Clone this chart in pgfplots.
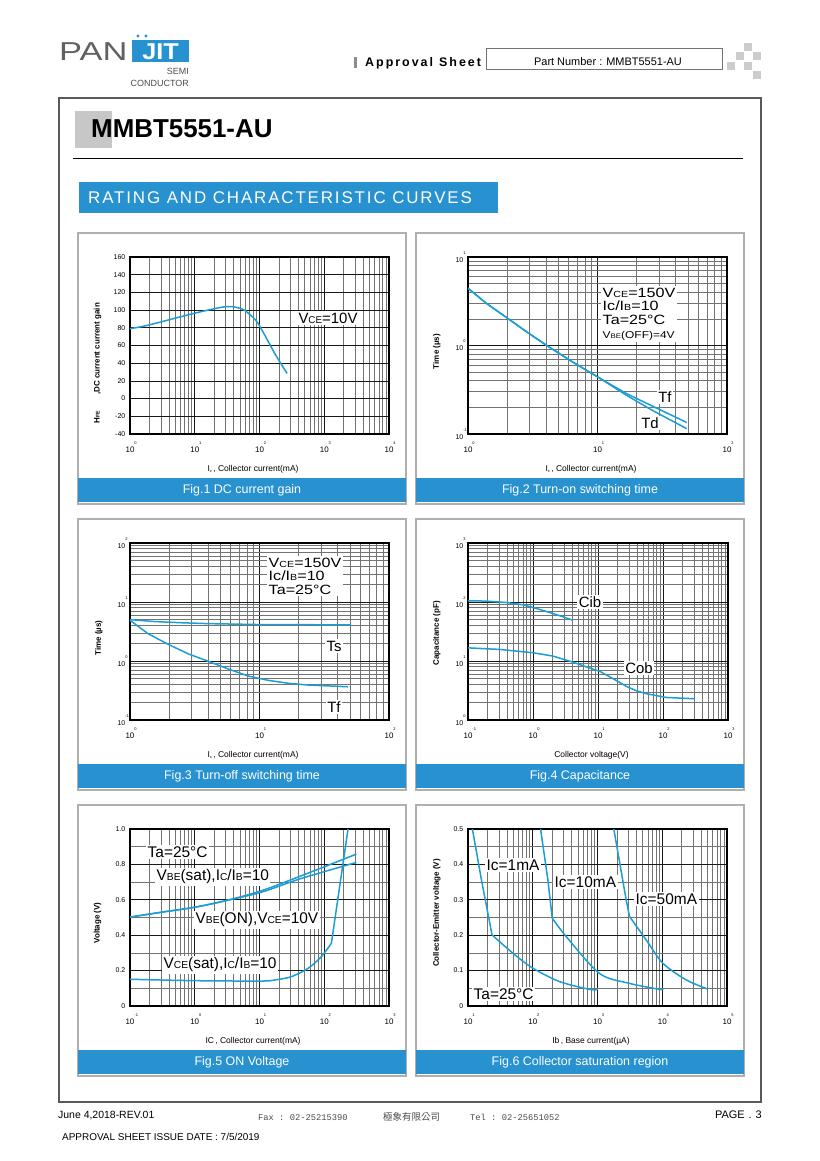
\documentclass[border=0pt]{standalone}
\usepackage{pgfplots}
\pgfplotsset{compat=1.18}
\usepackage{fontspec}
\setmainfont{Liberation Sans}
\setmonofont{Liberation Mono}
\newfontfamily\cjk{Noto Sans CJK TC}
\definecolor{curve}{RGB}{28,158,212}
\definecolor{bar}{RGB}{40,146,208}
\definecolor{panel}{RGB}{175,175,175}
\newcommand\fs[1]{\fontsize{#1}{#1}\selectfont}
\newcommand\tl[1]{10\rlap{\raisebox{8bp}{\fs{4}#1}}}
\newcommand\sm[1]{\scalebox{0.66}{#1}}
\newcommand\wide[1]{\scalebox{1.2}[1]{#1}}

\pgfplotsset{
  sheet/.style={scale only axis, width=259bp, height=177bp, anchor=north west,
    axis line style={line width=1.2bp},
    grid=both,
    major grid style={black!90, line width=0.7bp},
    minor grid style={black!55, line width=0.6bp},
    major tick length=0pt, minor tick length=0pt,
    xticklabel style={font=\fs{8}, anchor=base, inner sep=0pt, yshift=-19bp},
    yticklabel style={font=\fs{7}, anchor=east, inner sep=0pt, xshift=-4.5bp},
    xlabel style={font=\fs{8.5}, at={(axis description cs:0.475,-0.2)}, anchor=center},
    ylabel style={font=\bfseries\fs{8}, anchor=center},
  },
  logy/.style={y coord trafo/.code={\pgfmathparse{log10(##1)}},
    y coord inv trafo/.code={\pgfmathparse{10^(##1)}}},
  cv/.style={color=curve, line width=1.5bp, no markers, line join=round},
}

\begin{document}
\begin{tikzpicture}
\path[fill=white,use as bounding box] (0bp,0bp) rectangle (820bp,1161bp);

\begin{scope}[x=1bp, y=-1bp, shift={(0bp,1161bp)}]
% ---- header
\node[anchor=base west, inner sep=0pt, text=black!62, font=\fs{26}] at (59,61) {\scalebox{1.33}[1]{PAN}};
\fill[bar] (132,40) rectangle (189,62);
\node[anchor=base, inner sep=0pt, text=white, font=\bfseries\fs{23}] at (160.5,60) {\scalebox{1.1}[1]{JIT}};
\fill[bar] (138,36) circle (1.6bp);
\fill[bar] (146,36) circle (1.6bp);
\node[anchor=base east, inner sep=0pt, text=black!70, font=\fs{9}] at (189,75) {SEMI};
\node[anchor=base east, inner sep=0pt, text=black!70, font=\fs{9}] at (189,87) {CONDUCTOR};

\fill[black!45] (354,57) rectangle (357,68);
\node[anchor=base west, inner sep=0pt, font=\bfseries\fs{12.5}\addfontfeatures{LetterSpace=16}] at (365,67) {Approval\hspace{6bp}Sheet};
\draw[black!55, line width=0.8bp] (486,48) rectangle (722,69);
\node[anchor=base, inner sep=0pt, font=\fs{11}] at (608,66) {Part Number : MMBT5551-AU};
\foreach \a/\b in {744/43,736/52,753/52,727/62,744/62,753/71}
  \fill[black!20] (\a,\b) rectangle ++(8,8);

% ---- frame and title
\draw[black!65, line width=1.5bp] (59,98) rectangle (761,1102);
\fill[black!22] (75,111) rectangle (112,148);
\node[anchor=base west, inner sep=0pt, font=\bfseries\fs{26}] at (91,138) {MMBT5551-AU};
\draw[line width=1bp] (73,159) -- (743,159);
\fill[bar] (79,182) rectangle (498,213);
\node[anchor=base west, inner sep=0pt, text=white, font=\fs{17}\addfontfeatures{LetterSpace=11}] at (88,204) {RATING AND CHARACTERISTIC CURVES};

% ---- panels
\foreach \px/\py/\cap in {78/233/{Fig.1 DC current gain}, 416/233/{Fig.2 Turn-on switching time},
    78/519/{Fig.3 Turn-off switching time}, 416/519/{Fig.4 Capacitance},
    78/805/{Fig.5 ON Voltage}, 416/805/{Fig.6 Collector saturation region}} {
  \draw[panel, line width=1.5bp] (\px,\py) rectangle ++(328,271);
  \fill[bar] (\px,\py+245) rectangle ++(328,24);
  \node[text=white, font=\fs{12.5}] at (\px+164,\py+257) {\cap};
}
\end{scope}

% ---- Fig.1
\begin{axis}[sheet, at={(130bp,904bp)}, xmode=log, xmin=1, xmax=10000, ymin=-40, ymax=160,
  xtick={1,10,100,1000,10000}, xticklabels={\tl{0},\tl{1},\tl{2},\tl{3},\tl{4}},
  minor xtick={2,3,4,5,6,7,8,9,20,30,40,50,60,70,80,90,200,300,400,500,600,700,800,900,2000,3000,4000,5000,6000,7000,8000,9000},
  ytick={-40,-20,0,20,40,60,80,100,120,140,160},
  yticklabels={-40,-20,0,20,40,60,80,100,120,140,160},
  xlabel={I\raisebox{-1bp}{\fs{4}c}\,,\ Collector current(mA)},
  ylabel={H\sm{FE}\hspace{16bp},DC current current gain},
  ylabel style={at={(axis description cs:-0.125,0.40)}}]
\addplot[cv, smooth] coordinates {(1,79) (1.92,83) (10,96.5) (31,104) (53,101.4) (67,96.5) (95,85) (172,51) (267,28.4)};
\end{axis}

% ---- Fig.2
\begin{axis}[sheet, logy, at={(468bp,904bp)}, xmode=log, xmin=1, xmax=100, ymin=0.1, ymax=10,
  xtick={1,10,100}, xticklabels={\tl{0},\tl{1},\tl{2}},
  minor xtick={2,3,4,5,6,7,8,9,20,30,40,50,60,70,80,90},
  ytick={0.1,1,10}, yticklabels={\tl{-1},\tl{0},\tl{1}},
  minor ytick={0.2,0.3,0.4,0.5,0.6,0.7,0.8,0.9,2,3,4,5,6,7,8,9},
  xlabel={I\raisebox{-1bp}{\fs{4}c}\,,\ Collector current(mA)},
  ylabel={Time (\textmu s)},
  ylabel style={at={(axis description cs:-0.12,0.466)}}]
\addplot[cv] coordinates {(1,4.44) (1.38,3.01) (1.975,2.08) (2.82,1.436) (4.02,1.009) (6.45,0.649) (10.36,0.429) (16.6,0.288) (26.7,0.206) (48.9,0.135)};
\addplot[cv] coordinates {(1,4.44) (1.38,3.01) (1.975,2.08) (2.82,1.436) (4.02,1.009) (6.45,0.649) (10.36,0.429) (16.6,0.276) (26.7,0.184) (48.9,0.115)};
\end{axis}

% ---- Fig.3
\begin{axis}[sheet, logy, at={(130bp,618bp)}, xmode=log, xmin=1, xmax=100, ymin=0.1, ymax=100,
  xtick={1,10,100}, xticklabels={\tl{0},\tl{1},\tl{2}},
  minor xtick={2,3,4,5,6,7,8,9,20,30,40,50,60,70,80,90},
  ytick={0.1,1,10,100}, yticklabels={\tl{-1},\tl{0},\tl{1},\tl{2}},
  minor ytick={0.2,0.3,0.4,0.5,0.6,0.7,0.8,0.9,2,3,4,5,6,7,8,9,20,30,40,50,60,70,80,90},
  xlabel={I\raisebox{-1bp}{\fs{4}c}\,,\ Collector current(mA)},
  ylabel={Time (\textmu s)},
  ylabel style={at={(axis description cs:-0.12,0.463)}}]
\addplot[cv] coordinates {(1,5.03) (1.56,4.66) (2.5,4.45) (4.02,4.3) (10.4,4.14) (51,4.1)};
\addplot[cv] coordinates {(1,4.9) (1.38,2.9) (1.98,1.91) (2.82,1.32) (4.02,0.99) (5.73,0.734) (8.18,0.557) (11.7,0.47) (16.6,0.42) (23.7,0.392) (48.3,0.366)};
\end{axis}

% ---- Fig.4
\begin{axis}[sheet, logy, at={(468bp,618bp)}, width=260bp, xmode=log, xmin=0.1, xmax=1000, ymin=1, ymax=1000,
  xtick={0.1,1,10,100,1000}, xticklabels={\tl{-1},\tl{0},\tl{1},\tl{2},\tl{3}},
  minor xtick={0.2,0.3,0.4,0.5,0.6,0.7,0.8,0.9,2,3,4,5,6,7,8,9,20,30,40,50,60,70,80,90,200,300,400,500,600,700,800,900},
  ytick={1,10,100,1000}, yticklabels={\tl{0},\tl{1},\tl{2},\tl{3}},
  minor ytick={2,3,4,5,6,7,8,9,20,30,40,50,60,70,80,90,200,300,400,500,600,700,800,900},
  xlabel={Collector voltage(V)},
  ylabel={Capacitance (pF)},
  ylabel style={at={(axis description cs:-0.12,0.49)}}]
\addplot[cv] coordinates {(0.1,105) (0.19,103.6) (0.389,98) (0.7,89.7) (1,80.8) (2.03,63.8) (4.12,49.1)};
\addplot[cv] coordinates {(0.1,16.7) (0.307,15.7) (1,13.8) (2.03,12.1) (4.12,9.55) (6.62,7.94) (10.6,6.7) (17,5.02) (27.3,3.72) (38.9,3.13) (55.4,2.79) (112,2.41) (307,2.29)};
\end{axis}

% ---- Fig.5
\begin{axis}[sheet, at={(130bp,332bp)}, xmode=log, xmin=0.1, xmax=1000, ymin=0, ymax=1,
  xtick={0.1,1,10,100,1000}, xticklabels={\tl{-1},\tl{0},\tl{1},\tl{2},\tl{3}},
  minor xtick={0.2,0.3,0.4,0.5,0.6,0.7,0.8,0.9,2,3,4,5,6,7,8,9,20,30,40,50,60,70,80,90,200,300,400,500,600,700,800,900},
  ytick={0,0.2,0.4,0.6,0.8,1}, yticklabels={0,0.2,0.4,0.6,0.8,1.0},
  minor ytick={0.1,0.3,0.5,0.7,0.9},
  xlabel={IC\,,\ Collector current(mA)},
  ylabel={Voltage (V)},
  ylabel style={at={(axis description cs:-0.125,0.469)}}]
\addplot[cv, smooth] coordinates {(0.1,0.502) (0.308,0.530) (1,0.558) (2.92,0.594) (10.7,0.651) (44.5,0.736) (313,0.858)};
\addplot[cv, smooth] coordinates {(0.1,0.502) (0.308,0.530) (1,0.558) (2.92,0.594) (10.7,0.643) (44.5,0.721) (313,0.811)};
\addplot[cv, smooth] coordinates {(0.1,0.151) (1,0.143) (10.7,0.141) (17.3,0.147) (31.2,0.166) (56.4,0.213) (90.4,0.279) (129,0.355)};
\addplot[cv] coordinates {(129,0.355) (173,0.675) (233,1.0)};
\end{axis}

% ---- Fig.6
\begin{axis}[sheet, at={(468bp,332bp)}, xmode=log, xmin=10, xmax=100000, ymin=0, ymax=0.5,
  xtick={10,100,1000,10000,100000}, xticklabels={\tl{1},\tl{2},\tl{3},\tl{4},\tl{5}},
  minor xtick={20,30,40,50,60,70,80,90,200,300,400,500,600,700,800,900,2000,3000,4000,5000,6000,7000,8000,9000,20000,30000,40000,50000,60000,70000,80000,90000},
  ytick={0,0.1,0.2,0.3,0.4,0.5}, yticklabels={0,0.1,0.2,0.3,0.4,0.5},
  minor ytick={0.05,0.15,0.25,0.35,0.45},
  xlabel={Ib\,,\ Base current(\textmu A)},
  ylabel={Collector-Emitter voltage (V)},
  ylabel style={at={(axis description cs:-0.12,0.525)}}]
\addplot[cv] coordinates {(11.7,0.5) (16.1,0.357) (23.5,0.201)};
\addplot[cv, smooth] coordinates {(23.5,0.201) (49.4,0.149) (100,0.107) (259,0.069) (753,0.047) (1012,0.047)};
\addplot[cv] coordinates {(132,0.5) (171,0.357) (200,0.248)};
\addplot[cv, smooth] coordinates {(200,0.248) (329,0.196) (1072,0.092) (3100,0.064) (9030,0.047) (10180,0.047)};
\addplot[cv] coordinates {(1786,0.5) (2770,0.3) (3120,0.253)};
\addplot[cv, smooth] coordinates {(3120,0.253) (5630,0.187) (10190,0.121) (23300,0.074) (50100,0.048)};
\end{axis}

\begin{scope}[x=1bp, y=-1bp, shift={(0bp,1161bp)}]
% ---- annotations
\tikzset{lab/.style={fill=white, inner sep=1.5bp, font=\fs{15.5}}}
\node[lab, font=\fs{15}] at (328,318) {V\sm{CE}=10V};
\node[lab, anchor=north west, align=left, font=\fontsize{13.5}{13.8}\selectfont] at (601,286)
  {\wide{V\sm{CE}=150V}\\ \wide{Ic/I\sm{B}=10}\\ \wide{Ta=25°C}\\ \wide{\fs{10}V\sm{BE}(OFF)=4V}};
\node[lab, font=\fs{15}] at (665,397) {Tf};
\node[lab, font=\fs{15}] at (650,423) {Td};
\node[lab, anchor=north west, align=left, font=\fontsize{13.5}{13.8}\selectfont] at (267,556)
  {\wide{V\sm{CE}=150V}\\ \wide{Ic/I\sm{B}=10}\\ \wide{Ta=25°C}};
\node[lab, font=\fs{15}] at (334,646) {Ts};
\node[lab, font=\fs{15}] at (334,707) {Tf};
\node[lab, font=\fs{15}] at (590,602) {Cib};
\node[lab, font=\fs{15}] at (639,668) {Cob};
\node[lab, anchor=west] at (146,852) {Ta=25°C};
\node[lab, anchor=west] at (155,877) {V\sm{BE}(sat),I\sm{C}/I\sm{B}=10};
\node[lab, anchor=west] at (194,920) {V\sm{BE}(ON),V\sm{CE}=10V};
\node[lab, anchor=west] at (162,965) {V\sm{CE}(sat),I\sm{C}/I\sm{B}=10};
\node[lab, anchor=west] at (485,865) {Ic=1mA};
\node[lab, anchor=west] at (553,882) {Ic=10mA};
\node[lab, anchor=west] at (634,899) {Ic=50mA};
\node[lab, anchor=west] at (472,994) {Ta=25°C};

% ---- footer
\node[anchor=base west, inner sep=0pt, font=\fs{10.5}] at (58,1119) {June 4,2018-REV.01};
\node[anchor=base west, inner sep=0pt, text=black!70, font=\ttfamily\fs{8.8}] at (258,1121) {Fax : 02-25215390};
\node[anchor=base west, inner sep=0pt, text=black!70, font=\cjk\fs{9.5}] at (383,1121) {極象有限公司};
\node[anchor=base west, inner sep=0pt, text=black!70, font=\ttfamily\fs{8.8}] at (470,1121) {Tel : 02-25651052};
\node[anchor=base east, inner sep=0pt, font=\fs{11}] at (762,1119) {PAGE\hspace{4bp}.\hspace{4bp}3};
\node[anchor=base west, inner sep=0pt, font=\fs{10}] at (62,1141) {APPROVAL SHEET ISSUE DATE : 7/5/2019};
\end{scope}
\end{tikzpicture}
\end{document}
